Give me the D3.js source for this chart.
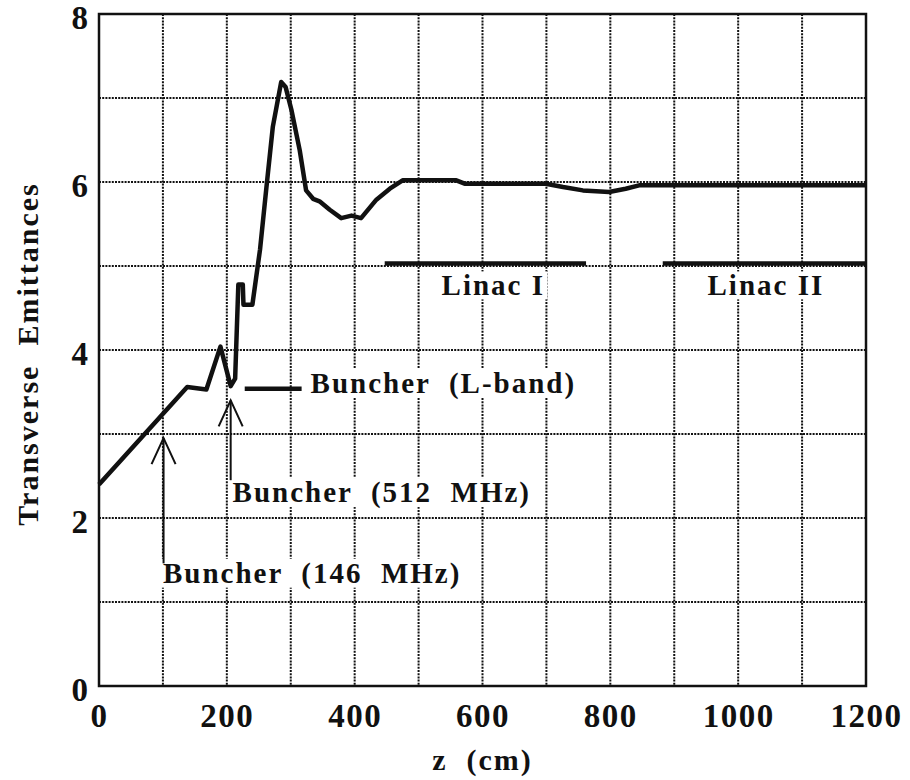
<!DOCTYPE html>
<html>
<head>
<meta charset="utf-8">
<script src="https://cdn.jsdelivr.net/npm/d3@7"></script>
<style>
  body { margin: 0; background: #fff; }
  svg text { font-family: "Liberation Serif", "Times New Roman", serif; font-weight: bold; fill: #111; white-space: pre; }
</style>
</head>
<body>
<div id="chart"></div>
<script>
// Emittance curve
const zPts = [0, 138, 168, 190, 206, 213, 218, 225, 226, 240, 252, 262, 272, 285, 292, 301, 314, 324, 335, 345,
              361, 379, 395, 410, 434, 455, 475, 559, 572, 699, 726, 757, 798, 824, 845, 1200];
const emitPts = [2.40, 3.56, 3.53, 4.04, 3.57, 3.66, 4.78, 4.78, 4.54, 4.54, 5.20, 5.94, 6.66, 7.19, 7.13, 6.86, 6.38, 5.90, 5.80, 5.77,
                 5.67, 5.57, 5.60, 5.57, 5.79, 5.92, 6.02, 6.02, 5.98, 5.98, 5.94, 5.90, 5.88, 5.92, 5.96, 5.96];

// Ticks
const xTickLabels = [0, 200, 400, 600, 800, 1000, 1200];
const yTickLabels = [0, 2, 4, 6, 8];
const xGrid = [100, 200, 300, 400, 500, 600, 700, 800, 900, 1000, 1100];
const yGrid = [1, 2, 3, 4, 5, 6, 7];

// Linac sections
const linacNames = ["Linac I", "Linac II"];
const linacStart = [447, 882];
const linacEnd = [762, 1200];
const linacLevel = 5.03;
const linacLabelZ = [536, 952];
const linacLabelE = 4.65;

// Buncher annotations
const buncherNames = ["Buncher  (146  MHz)", "Buncher  (512  MHz)", "Buncher  (L-band)"];
const buncherLabelZ = [100, 209, 331];
const buncherLabelE = [1.23, 2.19, 3.49];
const arrowZ = [101, 206];
const arrowTip = [2.95, 3.40];
const arrowTail = [1.46, 2.45];
const lbandLine = [228, 317];
const lbandLevel = 3.54;

const W = 910, H = 780;
const margin = {top: 14, right: 44, bottom: 94, left: 99};
const width = W - margin.left - margin.right,
      height = H - margin.top - margin.bottom;

const svg = d3.select("#chart").append("svg")
    .attr("width", W).attr("height", H);
const g = svg.append("g").attr("transform", `translate(${margin.left},${margin.top})`);

const x = d3.scaleLinear().domain([0, 1200]).range([0, width]);
const y = d3.scaleLinear().domain([0, 8]).range([height, 0]);

// dotted grid
const grid = g.append("g").attr("stroke", "#111").attr("stroke-width", 2).attr("stroke-dasharray", "2,1.2");
grid.selectAll("line.v").data(xGrid).join("line").attr("class", "v")
    .attr("x1", d => x(d)).attr("x2", d => x(d)).attr("y1", 0).attr("y2", height);
grid.selectAll("line.h").data(yGrid).join("line").attr("class", "h")
    .attr("x1", 0).attr("x2", width).attr("y1", d => y(d)).attr("y2", d => y(d));

// labels with white backing that hides the grid
const labels = g.append("g");
function addLabel(txt, zx, ey, size) {
    const t = labels.append("text")
        .attr("x", x(zx)).attr("y", y(ey))
        .style("font-size", size + "px")
        .style("letter-spacing", "2px")
        .text(txt);
    const b = t.node().getBBox();
    labels.insert("rect", "text")
        .attr("x", b.x - 2).attr("y", b.y + 2)
        .attr("width", b.width + 4).attr("height", b.height - 4)
        .attr("fill", "#fff");
}
buncherNames.forEach((n, i) => addLabel(n, buncherLabelZ[i], buncherLabelE[i], 29));
linacNames.forEach((n, i) => addLabel(n, linacLabelZ[i], linacLabelE, 29));

// linac bars
g.append("g").selectAll("line").data(linacNames).join("line")
    .attr("x1", (d, i) => x(linacStart[i])).attr("x2", (d, i) => x(linacEnd[i]))
    .attr("y1", y(linacLevel)).attr("y2", y(linacLevel))
    .attr("stroke", "#111").attr("stroke-width", 4.5);

// L-band marker
g.append("line")
    .attr("x1", x(lbandLine[0])).attr("x2", x(lbandLine[1]))
    .attr("y1", y(lbandLevel)).attr("y2", y(lbandLevel))
    .attr("stroke", "#111").attr("stroke-width", 4.5);

// arrows
const arrows = g.append("g").attr("stroke", "#111").attr("stroke-width", 2).attr("fill", "none");
arrowZ.forEach((z, i) => {
    const ax = x(z), ty = y(arrowTip[i]);
    arrows.append("line").attr("x1", ax).attr("x2", ax).attr("y1", ty).attr("y2", y(arrowTail[i]));
    arrows.append("path").attr("d", `M${ax - 12},${ty + 26}L${ax},${ty}L${ax + 12},${ty + 26}`);
});

// emittance curve
const line = d3.line().x(d => x(d[0])).y(d => y(d[1]));
g.append("path")
    .datum(zPts.map((z, i) => [z, emitPts[i]]))
    .attr("d", line)
    .attr("fill", "none")
    .attr("stroke", "#111")
    .attr("stroke-width", 4.5)
    .attr("stroke-linejoin", "round");

// frame
g.append("rect").attr("width", width).attr("height", height)
    .attr("fill", "none").attr("stroke", "#111").attr("stroke-width", 2.5);

// axes
const xAxis = g.append("g").attr("transform", `translate(0,${height})`)
    .call(d3.axisBottom(x).tickValues(xTickLabels).tickSize(0).tickPadding(18).tickFormat(d3.format("d")));
xAxis.select(".domain").remove();
xAxis.selectAll("text").style("font-size", "33px").style("letter-spacing", "1.5px").attr("fill", "#111");

const yAxis = g.append("g")
    .call(d3.axisLeft(y).tickValues(yTickLabels).tickSize(0).tickPadding(11).tickFormat(d3.format("d")));
yAxis.select(".domain").remove();
yAxis.selectAll("text").style("font-size", "33px").attr("dy", "0.45em").attr("fill", "#111");

// axis titles
svg.append("text")
    .attr("x", margin.left + width / 2).attr("y", 770)
    .attr("text-anchor", "middle")
    .style("font-size", "30px").style("letter-spacing", "2px")
    .text("z  (cm)");

svg.append("text")
    .attr("transform", `translate(38,${margin.top + 340}) rotate(-90)`)
    .attr("text-anchor", "middle")
    .style("font-size", "30px").style("letter-spacing", "2px")
    .text("Transverse  Emittances");
</script>
</body>
</html>
